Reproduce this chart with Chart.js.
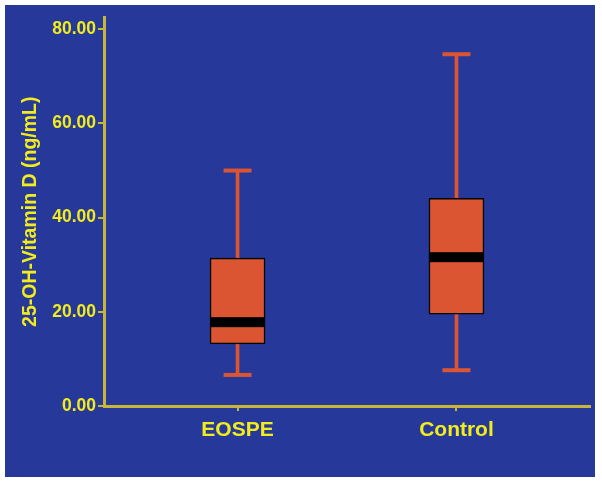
<!DOCTYPE html>
<html>
<head>
<meta charset="utf-8">
<script src="https://cdn.jsdelivr.net/npm/chart.js@4/dist/chart.umd.min.js"></script>
<style>
  html, body { margin: 0; padding: 0; background: #ffffff; }
  #wrap { position: absolute; left: 5px; top: 5px; width: 590px; height: 472px; }
</style>
</head>
<body>
<div id="wrap"><canvas id="chart" width="590" height="472"></canvas></div>
<script>
// datos (ng/mL)
const categories = ["EOSPE", "Control"];
const whiskerLow = [6.6, 7.6];
const q1 = [13.2, 19.5];
const median = [17.8, 31.6];
const q3 = [31.4, 44.1];
const whiskerHigh = [50.0, 74.7];
const yTicks = [0, 20, 40, 60, 80];

const BLUE = "#26389a";
const ORANGE = "#db5533";
const YELLOW = "#f2ec1c";
const AXIS = "#c8b63a";

// fondo azul
const bgPlugin = {
    id: "bg",
    beforeDraw(chart) {
        const ctx = chart.ctx;
        ctx.save();
        ctx.fillStyle = BLUE;
        ctx.fillRect(0, 0, chart.width, chart.height);
        ctx.restore();
    }
};

// bigotes (tapas) y mediana, usando las escalas del grafico
const boxPlugin = {
    id: "boxExtras",
    afterDatasetsDraw(chart) {
        const ctx = chart.ctx;
        const x = chart.scales.x;
        const y = chart.scales.y;
        ctx.save();
        categories.forEach((c, i) => {
            const cx = x.getPixelForValue(i + 1);
            // tapas de los bigotes
            ctx.strokeStyle = ORANGE;
            ctx.lineWidth = 4;
            [whiskerLow[i], whiskerHigh[i]].forEach(v => {
                const py = y.getPixelForValue(v);
                ctx.beginPath();
                ctx.moveTo(cx - 14, py);
                ctx.lineTo(cx + 14, py);
                ctx.stroke();
            });
            // mediana
            const my = y.getPixelForValue(median[i]);
            ctx.fillStyle = "#000000";
            ctx.fillRect(cx - 27.5, my - 5, 55, 10);
        });
        ctx.restore();
    }
};

const ctx = document.getElementById("chart").getContext("2d");

new Chart(ctx, {
    type: "bar",
    data: {
        datasets: [
            {
                label: "Caja",
                data: categories.map((c, i) => ({ x: i + 1, y: [q1[i], q3[i]] })),
                backgroundColor: ORANGE,
                borderColor: "#000000",
                borderWidth: 1.5,
                borderSkipped: false,
                barThickness: 55,
                grouped: false,
                order: 1
            },
            {
                label: "Bigote",
                data: categories.map((c, i) => ({ x: i + 1, y: [whiskerLow[i], whiskerHigh[i]] })),
                backgroundColor: ORANGE,
                borderWidth: 0,
                barThickness: 3,
                grouped: false,
                order: 2
            }
        ]
    },
    options: {
        responsive: false,
        animation: false,
        layout: { padding: { top: 5, right: 5, left: 0, bottom: 0 } },
        plugins: {
            legend: { display: false },
            tooltip: { enabled: false }
        },
        scales: {
            x: {
                type: "linear",
                min: 0.39,
                max: 2.61,
                offset: false,
                afterBuildTicks: (s) => { s.ticks = categories.map((c, i) => ({ value: i + 1 })); },
                afterFit: (s) => { s.height = 71; },
                grid: { offset: false, drawOnChartArea: false, drawTicks: true, tickLength: 5, color: AXIS, lineWidth: 2 },
                border: { display: true, color: AXIS, width: 3 },
                ticks: {
                    color: YELLOW,
                    padding: 7,
                    font: { family: "Arial, 'Liberation Sans', sans-serif", size: 21, weight: "bold" },
                    callback: (v) => categories[v - 1] || ""
                }
            },
            y: {
                min: 0,
                max: 82.5,
                afterBuildTicks: (s) => { s.ticks = yTicks.map(v => ({ value: v })); },
                afterFit: (s) => { s.width = 99; },
                grid: { drawOnChartArea: false, drawTicks: true, tickLength: 6, color: AXIS, lineWidth: 2 },
                border: { display: true, color: AXIS, width: 3 },
                ticks: {
                    color: YELLOW,
                    padding: 2,
                    font: { family: "Arial, 'Liberation Sans', sans-serif", size: 17.5, weight: "bold" },
                    callback: (v) => Number(v).toFixed(2)
                },
                title: {
                    display: true,
                    text: "25-OH-Vitamin D (ng/mL)",
                    color: YELLOW,
                    padding: { top: 14, bottom: 0 },
                    font: { family: "Arial, 'Liberation Sans', sans-serif", size: 19.5, weight: "bold" }
                }
            }
        }
    },
    plugins: [bgPlugin, boxPlugin]
});
</script>
</body>
</html>
